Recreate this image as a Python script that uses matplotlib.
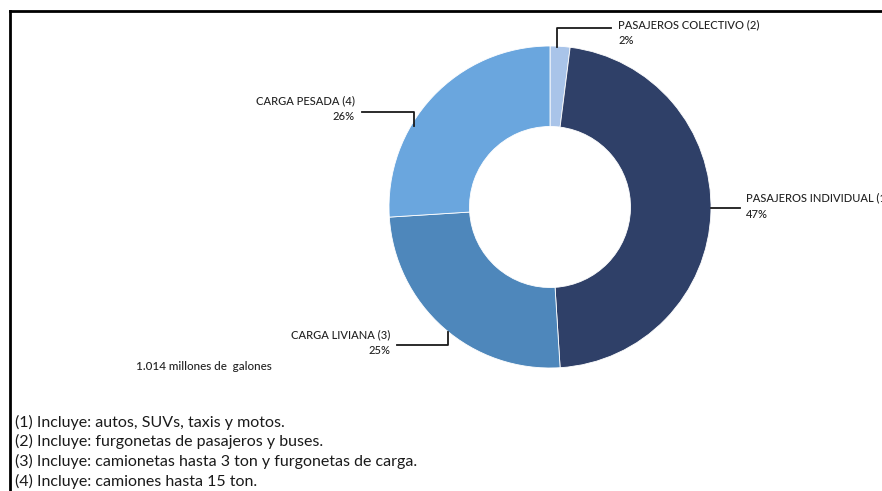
import matplotlib
matplotlib.use("Agg")
import matplotlib.pyplot as plt
from matplotlib.lines import Line2D

plt.rcParams['font.family'] = ['Lato', 'DejaVu Sans']

# Fuel consumption share by vehicle segment
categories = ["PASAJEROS COLECTIVO (2)", "PASAJEROS INDIVIDUAL (1)",
              "CARGA LIVIANA (3)", "CARGA PESADA (4)"]
shares = [2, 47, 25, 26]
colors = ["#A9C4E9", "#2F4068", "#4E87BB", "#6AA6DE"]
total_label = "1.014 millones de  galones"
footnotes = [
    "(1) Incluye: autos, SUVs, taxis y motos.",
    "(2) Incluye: furgonetas de pasajeros y buses.",
    "(3) Incluye: camionetas hasta 3 ton y furgonetas de carga.",
    "(4) Incluye: camiones hasta 15 ton.",
]

W, H = 882, 491
fig = plt.figure(figsize=(W / 100, H / 100), dpi=100)


def fx(x):
    return x / W


def fy(y):
    return 1 - y / H


# Donut
cx, cy, r = 550, 207, 161
ax = fig.add_axes([fx(cx - r), fy(cy + r), 2 * r / W, 2 * r / H])
ax.pie(shares, colors=colors, startangle=90, counterclock=False,
       radius=1.0, wedgeprops=dict(width=0.5, edgecolor="white", linewidth=0.6))
ax.set_xlim(-1, 1)
ax.set_ylim(-1, 1)
ax.set_aspect("auto")
ax.axis("off")


def leader(points):
    xs = [fx(p[0]) for p in points]
    ys = [fy(p[1]) for p in points]
    fig.add_artist(Line2D(xs, ys, color="#1a1a1a", lw=1.3,
                          transform=fig.transFigure))


lab_fs = 8.0
lab_w = "medium"
txt_col = "#222222"

# PASAJEROS COLECTIVO
leader([(557, 47), (557, 28), (611, 28)])
fig.text(fx(618), fy(25), categories[0], fontsize=lab_fs, color=txt_col,
         ha="left", va="center", weight=lab_w)
fig.text(fx(618), fy(41), f"{shares[0]}%", fontsize=lab_fs, color=txt_col,
         ha="left", va="center", weight=lab_w)

# PASAJEROS INDIVIDUAL
leader([(711, 208), (740, 208)])
fig.text(fx(746), fy(198), categories[1], fontsize=lab_fs, color=txt_col,
         ha="left", va="center", weight=lab_w)
fig.text(fx(746), fy(214), f"{shares[1]}%", fontsize=lab_fs, color=txt_col,
         ha="left", va="center", weight=lab_w)

# CARGA PESADA
leader([(362, 112), (414, 112), (414, 126)])
fig.text(fx(355), fy(101), categories[3], fontsize=lab_fs, color=txt_col,
         ha="right", va="center", weight=lab_w)
fig.text(fx(355), fy(117), f"{shares[3]}%", fontsize=lab_fs, color=txt_col,
         ha="right", va="center", weight=lab_w)

# CARGA LIVIANA
leader([(397, 345), (448, 345), (448, 332)])
fig.text(fx(390), fy(335), categories[2], fontsize=lab_fs, color=txt_col,
         ha="right", va="center", weight=lab_w)
fig.text(fx(390), fy(351), f"{shares[2]}%", fontsize=lab_fs, color=txt_col,
         ha="right", va="center", weight=lab_w)

# Total
fig.text(fx(204), fy(367), total_label, fontsize=8.4, color=txt_col,
         ha="center", va="center", weight=lab_w)

# Footnotes
for i, note in enumerate(footnotes):
    fig.text(fx(15), fy(422 + i * 19.7), note, fontsize=11.5,
             color="#1a1a1a", ha="left", va="center")

# Frame lines
fig.add_artist(Line2D([fx(9.5), 1], [fy(11), fy(11)], color="black", lw=2,
                      transform=fig.transFigure))
fig.add_artist(Line2D([fx(9.5), fx(9.5)], [fy(11), 0], color="black", lw=2,
                      transform=fig.transFigure))

fig.savefig("out.png", dpi=100, facecolor="white")
